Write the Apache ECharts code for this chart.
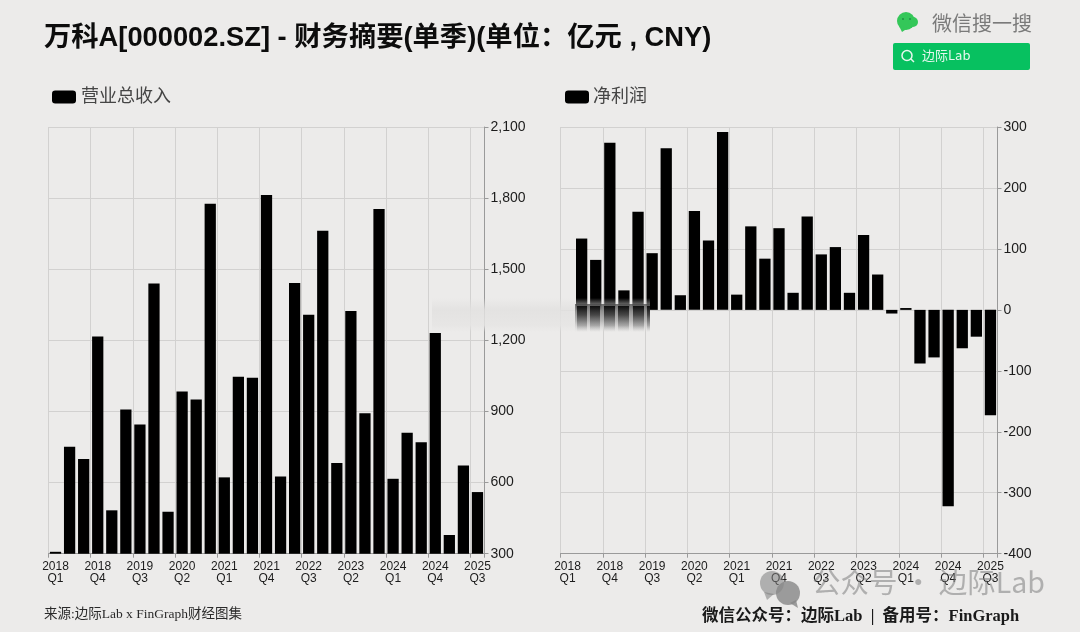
<!DOCTYPE html>
<html><head><meta charset="utf-8">
<style>html,body{margin:0;padding:0;background:#ecebea}#c{width:1080px;height:632px}</style>
<script src="https://cdn.jsdelivr.net/npm/echarts@6/dist/echarts.min.js"></script>
</head><body><div id="c"></div>
<script>
const titleText = '万科A[000002.SZ] - 财务摘要(单季)(单位：亿元 , CNY)';
const quarters = ['2018\nQ1','2018\nQ2','2018\nQ3','2018\nQ4','2019\nQ1','2019\nQ2','2019\nQ3','2019\nQ4','2020\nQ1','2020\nQ2','2020\nQ3','2020\nQ4','2021\nQ1','2021\nQ2','2021\nQ3','2021\nQ4','2022\nQ1','2022\nQ2','2022\nQ3','2022\nQ4','2023\nQ1','2023\nQ2','2023\nQ3','2023\nQ4','2024\nQ1','2024\nQ2','2024\nQ3','2024\nQ4','2025\nQ1','2025\nQ2','2025\nQ3'];
const revenue = [308,751,700,1216,483,908,845,1440,477,984,950,1776,622,1046,1042,1813,626,1442,1308,1662,683,1324,893,1754,616,810,770,1231,379,672,560];
const profit = [0,117,82,274,32,161,93,265,24,162,114,292,25,137,84,134,28,153,91,103,28,123,58,-6,3,-88,-78,-322,-63,-44,-173];
const sans = '"Liberation Sans","Noto Sans CJK SC",sans-serif';
const serif = '"Liberation Serif","Noto Sans CJK SC",serif';
const grid = '#d2d1d0', axisC = '#9a9a9a', labelC = '#1c1c1c';
function xAxis(i){return {type:'category',gridIndex:i,data:quarters,position:'bottom',
  axisLine:{onZero:false,lineStyle:{color:axisC,width:1}},
  axisTick:{show:true,interval:2,length:4,lineStyle:{color:axisC}},
  axisLabel:{interval:2,color:labelC,fontFamily:sans,fontSize:12,lineHeight:12,margin:7,hideOverlap:false},
  splitLine:{show:true,interval:2,lineStyle:{color:grid,width:1}}};}
function yAxis(i,min,max,step,fmt){return {type:'value',gridIndex:i,position:'right',min,max,interval:step,
  axisLine:{show:true,onZero:false,lineStyle:{color:axisC}},
  axisTick:{show:true,length:4,lineStyle:{color:axisC}},
  axisLabel:{color:labelC,fontFamily:sans,fontSize:14,margin:6,formatter:fmt},
  splitLine:{show:true,lineStyle:{color:grid,width:1}}};}
function legend(left,name,pad){return {left,top:83,data:[{name,icon:'roundRect'}],itemWidth:24,itemHeight:13,itemGap:5,
  textStyle:{color:'#454545',fontFamily:sans,fontSize:18,padding:[0,0,0,pad]}};}
const chart = echarts.init(document.getElementById('c'),null,{renderer:'canvas'});
const wm = 'rgba(125,125,125,0.55)';
const fade = (stops)=>new echarts.graphic.LinearGradient(0,0,0,1,stops.map(s=>({offset:s[0],color:s[1]})));
const smearColumns = [[577,10],[590,10],[604,11],[618,11],[633,11],[647,3]].map(c=>({
  type:'rect',z:52,shape:{x:c[0],y:306,width:c[1],height:26},
  style:{fill:fade([[0,'rgba(10,10,10,.95)'],[.35,'rgba(50,50,50,.8)'],[.75,'rgba(130,130,130,.55)'],[1,'rgba(190,190,190,0)']])}
}));
chart.setOption({
  animation:false,
  backgroundColor:'#ecebea',
  title:{text:titleText,left:44,top:25,padding:0,textStyle:{color:'#0c0c0c',fontFamily:sans,fontWeight:'bold',fontSize:27.3}},
  legend:[legend(47,'营业总收入',0),legend(560,'净利润',-1)],
  grid:[{left:48.5,top:127,width:436,height:426.7},{left:560.5,top:127,width:437,height:426.7}],
  xAxis:[xAxis(0),xAxis(1)],
  yAxis:[yAxis(0,300,2100,300,v=>v.toLocaleString('en-US')),yAxis(1,-400,300,100,v=>String(v))],
  series:[
    {name:'营业总收入',type:'bar',xAxisIndex:0,yAxisIndex:0,data:revenue,barWidth:'80%',itemStyle:{color:'#000'}},
    {name:'净利润',type:'bar',xAxisIndex:1,yAxisIndex:1,data:profit,barWidth:'80%',itemStyle:{color:'#000'}}
  ],
  graphic:[
    {type:'rect',z:50,shape:{x:432,y:298,width:218,height:34},style:{fill:fade([[0,'rgba(226,225,224,0)'],[.35,'rgba(226,225,224,.85)'],[.8,'rgba(230,229,228,.85)'],[1,'rgba(230,229,228,0)']])}},
    {type:'rect',z:51,shape:{x:575,y:304,width:75,height:28},style:{fill:fade([[0,'rgba(70,70,70,.75)'],[.6,'rgba(140,140,140,.5)'],[1,'rgba(200,200,200,0)']])}},
    ...smearColumns,
    {type:'circle',z:60,shape:{cx:906,cy:21,r:9},style:{fill:'#34c759'}},
    {type:'circle',z:60,shape:{cx:913,cy:22,r:5},style:{fill:'#34c759'}},
    {type:'polygon',z:60,shape:{points:[[899,26],[902,32],[908,28]]},style:{fill:'#34c759'}},
    {type:'circle',z:61,shape:{cx:903,cy:19,r:1},style:{fill:'#1f8f44'}},
    {type:'circle',z:61,shape:{cx:910,cy:19,r:1},style:{fill:'#1f8f44'}},
    {type:'text',z:60,x:932,y:13,style:{text:'微信搜一搜',fill:'#7a7a7a',font:'20px "Noto Sans CJK SC"'}},
    {type:'rect',z:60,shape:{x:893,y:43,width:137,height:27,r:2},style:{fill:'#07c160'}},
    {type:'circle',z:61,shape:{cx:907,cy:55.5,r:5},style:{fill:'none',stroke:'#e6f7ee',lineWidth:1.5}},
    {type:'line',z:61,shape:{x1:911,y1:59,x2:914,y2:62},style:{stroke:'#e6f7ee',lineWidth:1.5}},
    {type:'text',z:61,x:922,y:49,style:{text:'边际Lab',fill:'#e6f7ee',font:'13px "Noto Sans CJK SC"'}},
    {type:'circle',z:60,shape:{cx:772,cy:583,r:12},style:{fill:wm}},
    {type:'polygon',z:60,shape:{points:[[764,592],[767,600],[774,594]]},style:{fill:wm}},
    {type:'circle',z:61,shape:{cx:788,cy:593,r:12},style:{fill:'rgba(135,135,135,.8)'}},
    {type:'polygon',z:61,shape:{points:[[790,603],[798,608],[796,600]]},style:{fill:'rgba(135,135,135,.8)'}},
    {type:'text',z:61,x:812,y:568,style:{text:'公众号 · 边际Lab',fill:wm,font:'28.5px "Noto Sans CJK SC"'}},
    {type:'text',z:60,x:44,y:608,style:{text:'来源:边际Lab x FinGraph财经图集',fill:'#2a2a2a',font:'13.5px '+serif}},
    {type:'text',z:60,x:702,y:608,style:{text:'微信公众号：边际Lab  |  备用号：FinGraph',fill:'#1a1a1a',font:'bold 16.5px '+serif}}
  ]
});
</script></body></html>
